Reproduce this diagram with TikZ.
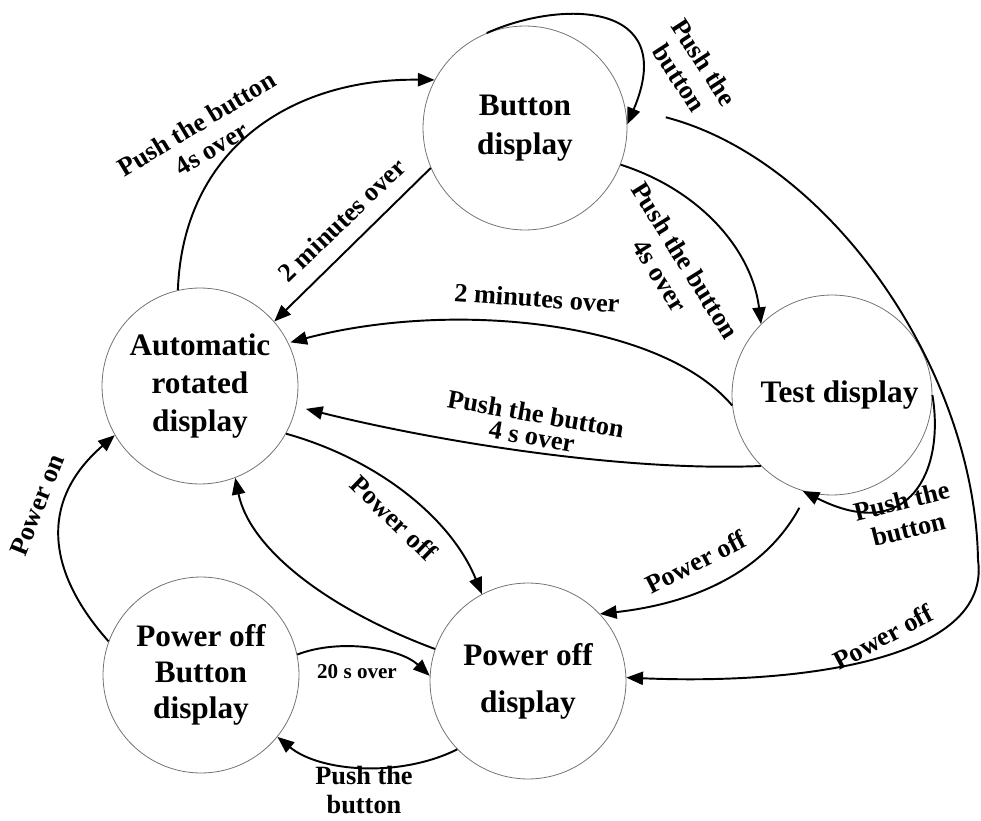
\documentclass[tikz,border=0pt]{standalone}
\usepackage{fontspec}
\setmainfont{Liberation Serif}
\usetikzlibrary{arrows.meta}
\begin{document}
\begin{tikzpicture}[x=0.02cm,y=-0.02cm,
  state/.style={circle,draw=black!55,line width=0.45pt,inner sep=0pt,align=center},
  stfont/.style={font=\bfseries\fontsize{17.8}{#1}\selectfont},
  conn/.style={line width=1.1pt,-{Triangle[length=9.5pt,width=7.5pt]}},
  lbl/.style={font=\bfseries\fontsize{15}{16.5}\selectfont,align=center,inner sep=0pt},
]
\useasboundingbox (0,0) rectangle (981,821);

% states
\node[state,stfont=22,minimum size=4.08cm] (btn) at (525,128) {Button\\display};
\node[state,stfont=21.5,minimum size=3.92cm] (aut) at (200,386) {Automatic\\rotated\\display};
\node[state,stfont=21.5,minimum size=4cm] (test) at (832,395) {\hspace*{0.3cm}Test display};
\node[state,stfont=20.4,minimum size=3.92cm] (pb) at (201,675) {Power off\\Button\\display};
\node[state,stfont=26.6,minimum size=3.92cm] (po) at (528,681) {Power off\\display};

% connectors
\draw[conn] (aut.103) .. controls (183,150) and (290,78) .. (btn.152);
\draw[conn] (btn.203) -- (aut.41);
\draw[conn] (btn.112) .. controls (560,0) and (680,0) .. (btn.2);
\draw[conn] (btn.-21) .. controls (700,190) and (752,250) .. (test.135);
\draw[conn,shorten >=0.04cm] (test.186) .. controls (660,320) and (450,300) .. (aut.26);
\draw[conn,shorten >=0.2cm] (test.225) .. controls (620,472) and (430,440) .. (aut.-12);
\draw[conn] (aut.-29) .. controls (380,460) and (452,520) .. (po.118);
\draw[conn] (po.161) .. controls (330,610) and (250,550) .. (aut.-69);
\draw[conn] (pb.12) .. controls (340,638) and (400,648) .. (po.177);
\draw[conn] (po.224) .. controls (400,778) and (320,772) .. (pb.-39);
\draw[conn] (pb.160) .. controls (45,570) and (40,500) .. (aut.210);
\draw[conn] (test.0) .. controls (945,470) and (910,545) .. (test.253);
\draw[conn,shorten <=0.35cm] (test.256) .. controls (760,580) and (680,605) .. (po.43);
\draw[conn,shorten <=0.84cm] (btn.12) .. controls (830,160) and (975,370) .. (978,560)
   .. controls (992,660) and (800,685) .. (po.2);

% labels
\node[lbl,rotate=31] (l1) at (204,136) {Push the button\\4s over};
\node[lbl,rotate=44] (l2) at (342,220) {2 minutes over};
\node[lbl,rotate=-57] (l3) at (692,70) {Push the\\button};
\node[lbl,rotate=-58] (l4) at (673,268) {Push the button\\4s over};
\node[lbl,rotate=-4] (l5) at (537,298) {2 minutes over};
\node[lbl,rotate=-10,font=\bfseries\fontsize{15}{13}\selectfont] (l6) at (534,425) {Push the button\\4 s over};
\node[lbl,rotate=-44] (l7) at (394,518) {Power off};
\node[lbl,font=\bfseries\fontsize{12}{14}\selectfont] (l9) at (357,672) {20 s over};
\node[lbl] (l10) at (364,790) {Push the\\button};
\node[lbl,rotate=68] (l11) at (37,505) {Power on};
\node[lbl,rotate=14] (l12) at (905,515) {Push the\\button};
\node[lbl,rotate=27] (l13) at (696,562) {Power off};
\node[lbl,rotate=28] (l14) at (883,637) {Power off};
\end{tikzpicture}
\end{document}
